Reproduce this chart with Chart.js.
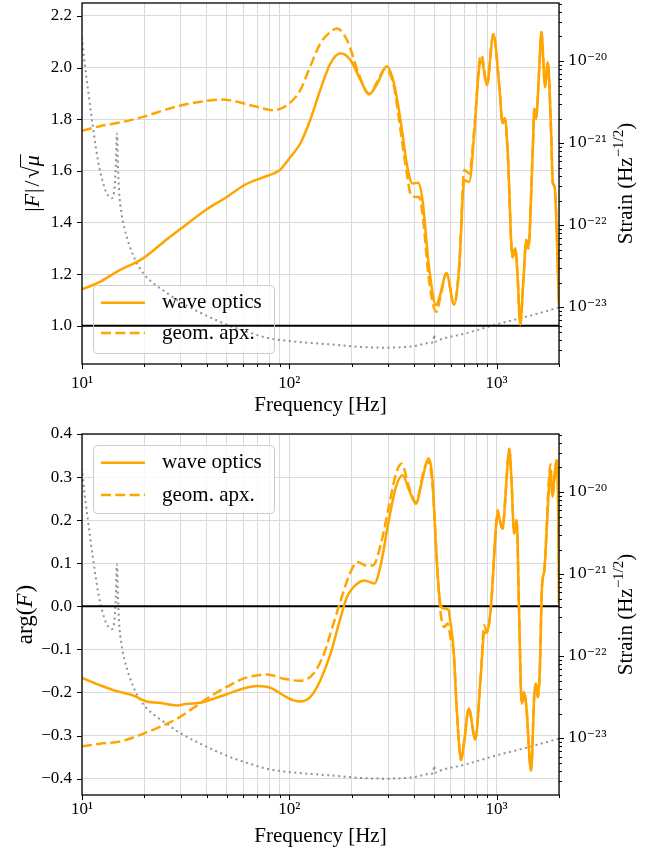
<!DOCTYPE html>
<html>
<head>
<meta charset="utf-8">
<script src="https://cdn.jsdelivr.net/npm/chart.js@4.4.1/dist/chart.umd.min.js"></script>
<style>
html,body{margin:0;padding:0;background:#fff;overflow:hidden;}
#wrap{position:relative;width:660px;height:854px;background:#fff;}
canvas{position:absolute;left:0;display:block;}
</style>
</head>
<body>
<div id="wrap">
<canvas id="magChart" width="660" height="427" style="top:0px"></canvas>
<canvas id="argChart" width="660" height="427" style="top:427px"></canvas>
</div>
<script>
// ---------------- data ----------------
const waveMagFreq = [10,12.2,14.7,19.7,25.6,30.8,40,50,62,78,90,100,113,126,141,158,177,197,221,242,266,295,320,344,371,392,418,439,472,510,530,573,624,660,699,738,780,825,847,898,965,1031,1069,1097,1130,1194,1230,1263,1300,1350,1390,1422,1494,1521,1550,1608,1645,1714,1766,1833,1866,1905,2000];
const waveMag = [1.141,1.170,1.209,1.261,1.334,1.383,1.451,1.499,1.549,1.580,1.603,1.648,1.706,1.796,1.913,2.016,2.055,2.029,1.951,1.896,1.938,2.005,1.938,1.796,1.616,1.551,1.554,1.487,1.228,1.080,1.110,1.203,1.082,1.228,1.564,1.557,1.745,2.003,2.025,1.932,2.130,1.925,1.784,1.804,1.680,1.265,1.300,1.190,1.005,1.190,1.332,1.300,1.680,1.840,1.803,2.003,2.138,1.925,2.022,1.745,1.555,1.538,1.074];

const geomMagFreq = [10,12.2,15.8,19.7,25.6,31.8,40,46.4,53.7,67.3,84,100,113,126,141,158,170,190,213,233,245,266,291,320,344,371,386,408,422,439,472,512,532,573,624,660,699,738,780,825,847,898,965,1031,1069,1097,1130,1194,1230,1263,1300,1350,1390,1422,1494,1521,1550,1608,1645,1714,1766,1833,1866,1905,2000];
const geomMag = [1.755,1.773,1.790,1.809,1.838,1.858,1.871,1.876,1.871,1.851,1.835,1.861,1.913,2.003,2.093,2.138,2.151,2.106,1.990,1.913,1.898,1.946,1.996,1.925,1.758,1.577,1.506,1.499,1.499,1.435,1.177,1.054,1.100,1.203,1.082,1.228,1.603,1.590,1.760,2.020,2.048,1.932,2.130,1.925,1.784,1.804,1.680,1.265,1.300,1.190,1.005,1.190,1.332,1.300,1.680,1.840,1.803,2.003,2.138,1.925,2.022,1.745,1.555,1.538,1.074];

const waveArgFreq = [10,12.2,14.7,17.7,20.5,23.7,28.7,32.3,37.4,41.6,50,58,70,81,94,106,113,126,141,158,177,190,213,230,257,277,298,327,352,379,408,439,468,491,508,522,537,560,585,600,620,639,660,673,699,734,789,840,871,898,940,993,1013,1031,1069,1097,1130,1151,1180,1215,1250,1282,1322,1356,1392,1466,1521,1550,1580,1616,1655,1700,1738,1785,1818,1860,1895,1946,1985,2000];
const waveArg = [-0.166,-0.183,-0.197,-0.207,-0.221,-0.224,-0.230,-0.226,-0.224,-0.217,-0.204,-0.193,-0.185,-0.189,-0.207,-0.219,-0.221,-0.211,-0.172,-0.110,-0.025,0.022,0.053,0.060,0.053,0.099,0.184,0.277,0.304,0.269,0.238,0.296,0.343,0.292,0.153,0.060,0.002,-0.005,-0.008,-0.040,-0.100,-0.218,-0.325,-0.357,-0.311,-0.237,-0.309,-0.156,-0.063,-0.060,0.002,0.184,0.219,0.204,0.180,0.238,0.331,0.366,0.292,0.169,0.200,-0.002,-0.226,-0.199,-0.234,-0.381,-0.203,-0.180,-0.211,-0.149,0.045,0.084,0.161,0.269,0.316,0.254,0.292,0.339,0.215,0.007];

const geomArgFreq = [10,12.2,15.5,19.7,23.7,28.7,34.7,41.6,50,60,78,94,113,131,147,158,177,196,213,234,253,277,304,327,348,379,408,448,468,491,515,535,560,580,602,620,639,660,673,699,734,789,840,871,898,940,993,1013,1031,1069,1097,1130,1151,1180,1215,1250,1282,1322,1356,1392,1466,1521,1550,1580,1616,1655,1700,1738,1785,1818,1860,1895,1946,1985,2000];
const geomArg = [-0.325,-0.319,-0.313,-0.296,-0.280,-0.261,-0.235,-0.209,-0.187,-0.168,-0.158,-0.168,-0.173,-0.156,-0.110,-0.063,0.014,0.076,0.103,0.095,0.095,0.146,0.238,0.308,0.331,0.275,0.242,0.320,0.335,0.280,0.107,-0.009,-0.048,-0.040,-0.079,-0.105,-0.218,-0.325,-0.357,-0.311,-0.237,-0.309,-0.156,-0.044,-0.060,0.002,0.184,0.223,0.204,0.180,0.238,0.331,0.366,0.292,0.169,0.200,-0.002,-0.226,-0.199,-0.234,-0.381,-0.203,-0.180,-0.211,-0.149,0.045,0.084,0.170,0.290,0.330,0.254,0.292,0.339,0.215,0.007];

const noiseFreq = [10,10.3,10.5,10.8,11.05,11.35,11.65,12.0,12.5,13.0,13.5,13.9,14.3,14.55,14.75,14.9,15.1,15.5,16,17.7,19.7,22.5,25.6,30,37,45,53.7,65,78,100,158,220,298,400,480,495,500,505,550,699,1015,1361,2000];
const noiseStrain = [1.95e-20,9.3e-21,6.3e-21,3.7e-21,2.34e-21,1.45e-21,9.1e-22,5.75e-22,3.63e-22,2.63e-22,2.25e-22,2.14e-22,2.6e-22,5.0e-22,1.32e-21,5.5e-22,2.6e-22,1.41e-22,9.3e-23,4.27e-23,2.63e-23,1.9e-23,1.51e-23,1.15e-23,8.7e-24,6.9e-24,5.75e-24,4.9e-24,4.27e-24,3.9e-24,3.55e-24,3.31e-24,3.24e-24,3.39e-24,3.72e-24,3.8e-24,4.68e-24,3.85e-24,4.17e-24,4.79e-24,6.3e-24,7.6e-24,1.0e-23];

const refLineFreq = [10, 2000];
const magRefLine = [1.0, 1.0];
const argRefLine = [0.0, 0.0];

// ticks
const xGridFreqs = [10,20,30,40,50,60,70,80,90,100,200,300,400,500,600,700,800,900,1000,2000];
const xMajorTicks = [10,100,1000];
const xTickLabels = ['10\u00B9','10\u00B2','10\u00B3'];
const magTicks = [1.0,1.2,1.4,1.6,1.8,2.0,2.2];
const argTicks = [-0.4,-0.3,-0.2,-0.1,0.0,0.1,0.2,0.3,0.4];
const strainTickExps = [-23,-22,-21,-20];
const strainTickLabels = ['10\u207B\u00B2\u00B3','10\u207B\u00B2\u00B2','10\u207B\u00B2\u00B9','10\u207B\u00B2\u2070'];

const freqMin = 10, freqMax = 2000;
const magMin = 0.852, magMax = 2.25;
const argMin = -0.438, argMax = 0.4;
const strainMin = 2.05e-24, strainMax = 5.1e-20;

// ---------------- style ----------------
const ORANGE = '#FFA500';
const GRID = '#dadada';
const NOISE = 'rgba(120,120,120,0.8)';
const FONT = "'Liberation Serif', 'DejaVu Serif', serif";
Chart.defaults.font.family = FONT;
Chart.defaults.color = '#000';

function pts(xs, ys){ return xs.map((x,i)=>({x:x, y:ys[i]})); }

function strainGridTicks(){
  const out = [];
  for (let e = -24; e <= -20; e++) {
    for (let k = 1; k <= 9; k++) {
      const v = k * Math.pow(10, e);
      if (v >= strainMin && v <= strainMax) out.push({value: v, major: k === 1});
    }
  }
  return out;
}

function roundRect(ctx,x,y,w,h,r){
  ctx.beginPath();ctx.moveTo(x+r,y);ctx.lineTo(x+w-r,y);ctx.quadraticCurveTo(x+w,y,x+w,y+r);
  ctx.lineTo(x+w,y+h-r);ctx.quadraticCurveTo(x+w,y+h,x+w-r,y+h);ctx.lineTo(x+r,y+h);
  ctx.quadraticCurveTo(x,y+h,x,y+h-r);ctx.lineTo(x,y+r);ctx.quadraticCurveTo(x,y,x+r,y);ctx.closePath();
}

function drawPieces(ctx, cx, cy, pieces, size){
  ctx.save();
  ctx.translate(cx, cy);
  ctx.rotate(-Math.PI/2);
  ctx.fillStyle = '#000';
  ctx.textBaseline = 'alphabetic';
  ctx.textAlign = 'left';
  const fontOf = p => (p.it ? 'italic ' : '') + Math.round(p.sup ? size*0.7 : size) + 'px ' + FONT;
  let total = 0;
  pieces.forEach(p => { ctx.font = fontOf(p); p.w = ctx.measureText(p.t).width; total += p.w + (p.gap||0); });
  let x = -total/2;
  const base = size*0.34;
  pieces.forEach(p => {
    ctx.font = fontOf(p);
    const dy = p.sup ? -size*0.42 : 0;
    ctx.fillText(p.t, x, base + dy);
    if (p.over) {
      ctx.strokeStyle = '#000'; ctx.lineWidth = 1;
      ctx.beginPath();
      ctx.moveTo(x - 1, base - size*0.86);
      ctx.lineTo(x + p.w + 1, base - size*0.86);
      ctx.stroke();
    }
    x += p.w + (p.gap||0);
  });
  ctx.restore();
}

const decorPlugin = {
  id: 'decor',
  beforeDatasetsDraw(chart, args, o){
    const ctx = chart.ctx, L = o.legend;
    ctx.save();
    roundRect(ctx, L.x, L.y, L.w, L.h, 4);
    ctx.fillStyle = 'rgba(255,255,255,0.8)';
    ctx.fill();
    ctx.restore();
  },
  afterDatasetsDraw(chart, args, o){
    const ctx = chart.ctx, a = chart.chartArea, L = o.legend;
    ctx.save();
    roundRect(ctx, L.x + 0.5, L.y + 0.5, L.w, L.h, 4);
    ctx.strokeStyle = '#cccccc'; ctx.lineWidth = 1; ctx.stroke();
    const items = chart.data.datasets.filter(d => d.inLegend);
    items.forEach((d, i) => {
      const y = L.rows[i];
      ctx.beginPath();
      ctx.setLineDash(d.borderDash || []);
      ctx.strokeStyle = d.borderColor; ctx.lineWidth = d.borderWidth;
      ctx.moveTo(L.sx0, y); ctx.lineTo(L.sx1, y); ctx.stroke();
      ctx.setLineDash([]);
      ctx.font = '21px ' + FONT; ctx.fillStyle = '#000';
      ctx.textBaseline = 'middle'; ctx.textAlign = 'left';
      ctx.fillText(d.label, L.tx, y);
    });
    // spines
    ctx.strokeStyle = '#000'; ctx.lineWidth = 1.3;
    ctx.strokeRect(a.left, a.top, a.right - a.left, a.bottom - a.top);
    // tick marks
    ctx.lineWidth = 1;
    const xs = chart.scales.x, yl = chart.scales.y, yr = chart.scales.y2;
    ctx.beginPath();
    xs.ticks.forEach(t => {
      const p = Math.round(xs.getPixelForValue(t.value)) + 0.5;
      const len = xMajorTicks.indexOf(t.value) >= 0 ? 5 : 3;
      ctx.moveTo(p, a.bottom); ctx.lineTo(p, a.bottom + len);
    });
    yl.ticks.forEach(t => {
      const p = Math.round(yl.getPixelForValue(t.value)) + 0.5;
      ctx.moveTo(a.left - 5, p); ctx.lineTo(a.left, p);
    });
    yr.ticks.forEach(t => {
      const p = Math.round(yr.getPixelForValue(t.value)) + 0.5;
      ctx.moveTo(a.right, p); ctx.lineTo(a.right + (t.major ? 5 : 3), p);
    });
    ctx.stroke();
    ctx.restore();
  },
  afterDraw(chart, args, o){
    const ctx = chart.ctx;
    o.titles.forEach(T => drawPieces(ctx, T.x, T.y, T.pieces.map(p => Object.assign({}, p)), T.size));
  }
};

function fmtLin(v){ return (v < -1e-9 ? '\u2212' : '') + Math.abs(v).toFixed(1); }

function xScale(labelPad, titlePad, h){
  return {
    type: 'logarithmic', position: 'bottom', min: freqMin, max: freqMax,
    afterBuildTicks: s => { s.ticks = xGridFreqs.map(v => ({value: v})); },
    afterFit: s => { s.height = h; s.paddingLeft = 0; s.paddingRight = 0; },
    ticks: { autoSkip: false, maxRotation: 0, minRotation: 0, padding: labelPad, font: {size: 17}, color: '#000',
      callback: v => { const i = xMajorTicks.indexOf(v); return i >= 0 ? xTickLabels[i] : ''; } },
    grid: { color: GRID, lineWidth: 1, drawTicks: false },
    border: { display: false },
    title: { display: true, text: 'Frequency [Hz]', color: '#000', font: {size: 21}, padding: {top: 0, bottom: titlePad} }
  };
}
function yScale(min, max, tickArr){
  return {
    type: 'linear', position: 'left', min: min, max: max,
    afterBuildTicks: s => { s.ticks = tickArr.map(v => ({value: v})); },
    afterFit: s => { s.width = 82; s.paddingTop = 0; s.paddingBottom = 0; },
    ticks: { padding: 10, font: {size: 17}, color: '#000', autoSkip: false, callback: v => fmtLin(v) },
    grid: { color: GRID, lineWidth: 1, drawTicks: false },
    border: { display: false }
  };
}
function y2Scale(){
  return {
    type: 'logarithmic', position: 'right', min: strainMin, max: strainMax,
    afterBuildTicks: s => { s.ticks = strainGridTicks(); },
    afterFit: s => { s.width = 101; s.paddingTop = 0; s.paddingBottom = 0; },
    ticks: { padding: 9, font: {size: 15, family: "'DejaVu Serif', serif"}, color: '#000', autoSkip: false,
      callback: v => {
        const e = Math.round(Math.log10(v));
        if (Math.abs(v / Math.pow(10, e) - 1) < 1e-6) { const i = strainTickExps.indexOf(e); return i >= 0 ? strainTickLabels[i] : ''; }
        return '';
      } },
    grid: { display: false, drawTicks: false },
    border: { display: false }
  };
}

function datasets(wF, wV, gF, gV, refV){
  return [
    { label: 'wave optics', inLegend: true, data: pts(wF, wV), borderColor: ORANGE, borderWidth: 2.5, yAxisID: 'y', order: 1 },
    { label: 'geom. apx.', inLegend: true, data: pts(gF, gV), borderColor: ORANGE, borderWidth: 2.5, borderDash: [10, 4.3], yAxisID: 'y', order: 2 },
    { label: 'reference', data: pts(refLineFreq, refV), borderColor: '#000', borderWidth: 2, yAxisID: 'y', order: 3 },
    { label: 'noise', data: pts(noiseFreq, noiseStrain), borderColor: NOISE, borderWidth: 2, borderDash: [2, 3.5], yAxisID: 'y2', order: 4 }
  ];
}

function baseOptions(padTop, legend, titles, xs, ys){
  return {
    responsive: false, animation: false, devicePixelRatio: 1, events: [],
    layout: { padding: { top: padTop, left: 0, right: 0, bottom: 0 } },
    elements: { point: { radius: 0 }, line: { cubicInterpolationMode: 'monotone', borderCapStyle: 'butt', borderJoinStyle: 'round', fill: false } },
    plugins: { legend: { display: false }, tooltip: { enabled: false }, decor: { legend: legend, titles: titles } },
    scales: { x: xs, y: ys, y2: y2Scale() }
  };
}

const strainTitle = [{t: 'Strain (Hz'}, {t: '\u22121/2', sup: true}, {t: ')'}];

new Chart(document.getElementById('magChart'), {
  type: 'line',
  data: { datasets: datasets(waveMagFreq, waveMag, geomMagFreq, geomMag, magRefLine) },
  options: baseOptions(3,
    { x: 93, y: 285, w: 181, h: 68, rows: [302.7, 333], sx0: 101, sx1: 145, tx: 162 },
    [ { x: 32, y: 183.5, size: 22, pieces: [{t:'|'},{t:'F',it:true,gap:1},{t:'|',gap:2},{t:'/',gap:2},{t:'\u221A'},{t:'\u03BC',it:true,over:true}] },
      { x: 625, y: 183.5, size: 21, pieces: strainTitle } ],
    xScale(9, 9, 63), yScale(magMin, magMax, magTicks)),
  plugins: [decorPlugin]
});

new Chart(document.getElementById('argChart'), {
  type: 'line',
  data: { datasets: datasets(waveArgFreq, waveArg, geomArgFreq, geomArg, argRefLine) },
  options: baseOptions(7,
    { x: 93, y: 18, w: 181, h: 68, rows: [35.7, 68], sx0: 101, sx1: 145, tx: 162 },
    [ { x: 24, y: 187.5, size: 23, pieces: [{t:'arg('},{t:'F',it:true,gap:1},{t:')'}] },
      { x: 625, y: 187.5, size: 21, pieces: strainTitle } ],
    xScale(4, 5, 59), yScale(argMin, argMax, argTicks)),
  plugins: [decorPlugin]
});
</script>
</body>
</html>
